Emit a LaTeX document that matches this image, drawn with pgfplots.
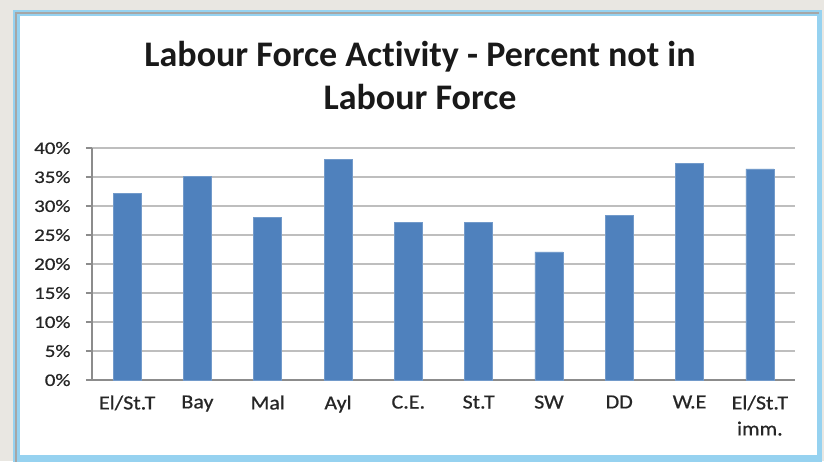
\documentclass[border=0pt]{standalone}
\usepackage{pgfplots}
\pgfplotsset{compat=1.18}
\usepackage{fontspec}
\setmainfont{Carlito}[Ligatures=NoCommon]
\newfontfamily\ylab{Carlito}[FakeStretch=1.2,FakeBold=0.6]
\newfontfamily\xlab{Carlito}[FakeStretch=1.1,FakeBold=0.6]
\definecolor{barblue}{RGB}{79,129,189}
\definecolor{bggrey}{RGB}{233,231,226}
\definecolor{framelb}{RGB}{150,210,240}
\definecolor{gridgrey}{RGB}{190,190,190}
\definecolor{axgrey}{RGB}{140,140,140}
\begin{document}
\begin{tikzpicture}[x=1pt,y=1pt]
\useasboundingbox (0,0) rectangle (824,461);
\fill[bggrey] (0,0) rectangle (824,461);
\fill[framelb] (13,-2) rectangle (822,451);
\draw[gray!70,line width=1.5pt] (15.8,-2) -- (15.8,448.2) -- (819.2,448.2);
\fill[white] (19.5,6) rectangle (816.5,444.5);
\node[anchor=base,font=\fontsize{36}{42}\selectfont\bfseries,text=black!90] at (420,394) {Labour Force Activity - Percent not in};
\node[anchor=base,font=\fontsize{36}{42}\selectfont\bfseries,text=black!90] at (420,351) {Labour Force};
\begin{axis}[
  at={(92pt,81pt)}, anchor=south west,
  width=703pt, height=232pt, scale only axis,
  xmin=-0.5, xmax=9.5, ymin=0, ymax=40,
  axis x line*=bottom, axis y line*=left,
  axis line style={axgrey, line width=1.2pt},
  ybar, bar width=28pt,
  xtick={0,...,9},
  xticklabels={El/St.T,Bay,Mal,Ayl,C.E.,St.T,SW,DD,W.E,{El/St.T\\imm.}},
  xticklabel style={align=center, anchor=north, yshift=-6pt, font=\xlab\fontsize{20}{26}\selectfont, text=black!85},
  x tick style={draw=none},
  minor xtick={-0.5,0.5,...,9.5},
  minor x tick style={axgrey, line width=1.2pt},
  minor tick length=7pt,
  tick align=outside,
  ytick={0,5,...,40},
  yticklabel={\pgfmathprintnumber{\tick}\%},
  yticklabel style={font=\ylab\fontsize{17.5}{20}\selectfont, text=black!85, xshift=-12pt},
  /pgf/number format/assume math mode=true,
  y tick style={axgrey, line width=1.2pt},
  major tick length=6pt,
  ymajorgrids,
  grid style={gridgrey, line width=1.2pt},
  clip=false,
]
\addplot[fill=barblue, draw=barblue!80!white, line width=0.6pt] coordinates {
(0,32.2) (1,35.1) (2,28.0) (3,38.1) (4,27.2) (5,27.2) (6,22.1) (7,28.4) (8,37.4) (9,36.4)};
\end{axis}
\end{tikzpicture}
\end{document}
